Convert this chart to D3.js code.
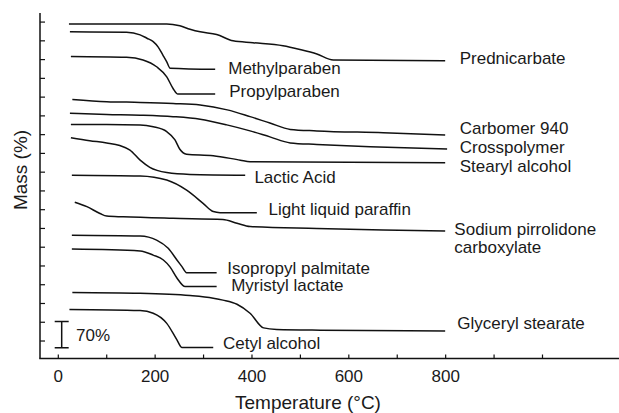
<!DOCTYPE html>
<html><head><meta charset="utf-8">
<script src="https://cdn.jsdelivr.net/npm/d3@7"></script>
<style>body{margin:0;background:#fff}svg{display:block}text{font-family:"Liberation Sans",Arial,sans-serif;fill:#1a1a1a}</style>
</head><body><svg id="c" width="619" height="413"></svg>
<script>
// Temperature (°C) vs stacked mass (%) — each curve vertically offset
const names = ["Prednicarbate","Methylparaben","Propylparaben","Carbomer 940","Crosspolymer","Stearyl alcohol","Lactic Acid","Light liquid paraffin","Sodium pirrolidone\ncarboxylate","Isopropyl palmitate","Myristyl lactate","Glyceryl stearate","Cetyl alcohol"];
const prednicarbate = [[22,845],[224,845],[251,840],[272,831],[293,824],[327,817],[361,800],[402,795],[464,787],[499,777],[534,765],[568,749],[799,747]];
const methylparaben = [[24,824],[141,823],[169,816],[183,807],[196,798],[206,784],[216,762],[224,744],[231,727],[324,724]];
const propylparaben = [[26,758],[141,756],[175,749],[203,731],[224,704],[237,673],[247,658],[324,658]];
const carbomer940 = [[29,644],[100,638],[169,636],[237,633],[293,629],[349,616],[396,598],[437,581],[479,564],[534,560],[671,555],[799,549]];
const crosspolymer = [[24,607],[100,604],[169,602],[237,598],[293,591],[348,576],[396,560],[437,544],[479,528],[534,524],[644,518],[803,512]];
const stearylAlcohol = [[26,577],[100,577],[169,576],[196,571],[224,558],[241,536],[251,511],[265,498],[320,494],[376,482],[396,478],[799,475]];
const lacticAcid = [[26,542],[65,534],[100,528],[127,521],[148,509],[169,482],[189,463],[224,449],[272,444],[386,442]];
const lightParaffin = [[28,442],[169,440],[224,429],[265,402],[299,367],[320,345],[334,342],[410,342]];
const sodiumPca = [[34,370],[59,358],[86,340],[100,333],[134,331],[237,327],[340,324],[369,314],[396,305],[534,300],[671,296],[799,293]];
const isopropylPalmitate = [[28,282],[169,280],[203,269],[227,247],[245,216],[255,199],[265,182],[327,182]];
const myristylLactate = [[28,245],[169,240],[196,229],[217,216],[231,197],[245,168],[262,145],[327,145]];
const glycerylStearate = [[29,129],[169,127],[272,121],[320,114],[340,109],[369,98],[396,74],[424,35],[451,31],[541,29],[799,27]];
const cetylAlcohol = [[23,84],[169,81],[196,74],[224,47],[245,3],[255,-17],[320,-17]];
const series = [prednicarbate,methylparaben,propylparaben,carbomer940,crosspolymer,stearylAlcohol,lacticAcid,lightParaffin,sodiumPca,isopropylPalmitate,myristylLactate,glycerylStearate,cetylAlcohol];
const xTicks = [0,100,200,300,400,500,600,700,800,900,1000];
const xTickLabels = [0,200,400,600,800];
const yTicks = d3.range(0,851,50);
const scaleBar = [-18,52]; // 70 %

const svg = d3.select("#c");
const x = d3.scaleLinear().domain([-37.8,1158]).range([40,619]);
const y = d3.scaleLinear().domain([-46.6,874.2]).range([358.5,13]);

// label anchor positions [T, v]
const labelAt = [[829,754],[351,727],[353,666],[829,568],[829,517],[829,466],[405,437],[434,352],[818,298],[349,195],[357,149],[824,48],[340,-5]];

// axes
svg.append("line").attr("x1",40).attr("x2",40).attr("y1",y.range()[1]).attr("y2",y.range()[0]).attr("stroke","#111").attr("stroke-width",1.5);
svg.append("line").attr("x1",39.25).attr("x2",619).attr("y1",y.range()[0]).attr("y2",y.range()[0]).attr("stroke","#111").attr("stroke-width",1.5);
svg.selectAll(".yt").data(yTicks).join("line").attr("x1",40).attr("x2",45).attr("y1",d=>y(d)).attr("y2",d=>y(d)).attr("stroke","#111").attr("stroke-width",1.2);
svg.selectAll(".xt").data(xTicks).join("line").attr("x1",d=>x(d)).attr("x2",d=>x(d)).attr("y1",y.range()[0]).attr("y2",y.range()[0]-4).attr("stroke","#111").attr("stroke-width",1.2);
svg.selectAll(".xl").data(xTickLabels).join("text").attr("x",d=>x(d)).attr("y",382).attr("text-anchor","middle").attr("font-size",17).text(d=>d);
svg.append("text").attr("x",308).attr("y",409).attr("text-anchor","middle").attr("font-size",19).text("Temperature (°C)");
svg.append("text").attr("transform","translate(27,170) rotate(-90)").attr("text-anchor","middle").attr("font-size",19).text("Mass (%)");

// curves
const line = d3.line().x(d=>x(d[0])).y(d=>y(d[1])).curve(d3.curveMonotoneX);
svg.selectAll(".curve").data(series).join("path").attr("d",line).attr("fill","none").attr("stroke","#111").attr("stroke-width",1.5);

// labels
names.forEach((n,i)=>{
  const t = svg.append("text").attr("x",x(labelAt[i][0])).attr("y",y(labelAt[i][1])).attr("dy","0.35em").attr("font-size",17);
  n.split("\n").forEach((s,j)=>t.append("tspan").attr("x",x(labelAt[i][0])).attr("dy",j===0?"0.35em":"1.06em").text(s));
});

// 70 % scale bar
const bx = x(7);
svg.append("line").attr("x1",bx).attr("x2",bx).attr("y1",y(scaleBar[0])).attr("y2",y(scaleBar[1])).attr("stroke","#111").attr("stroke-width",1.5);
scaleBar.forEach(v=>svg.append("line").attr("x1",bx-7).attr("x2",bx+7).attr("y1",y(v)).attr("y2",y(v)).attr("stroke","#111").attr("stroke-width",1.5));
svg.append("text").attr("x",76).attr("y",y((scaleBar[0]+scaleBar[1])/2)).attr("dy","0.35em").attr("font-size",17).text("70%");
</script></body></html>
